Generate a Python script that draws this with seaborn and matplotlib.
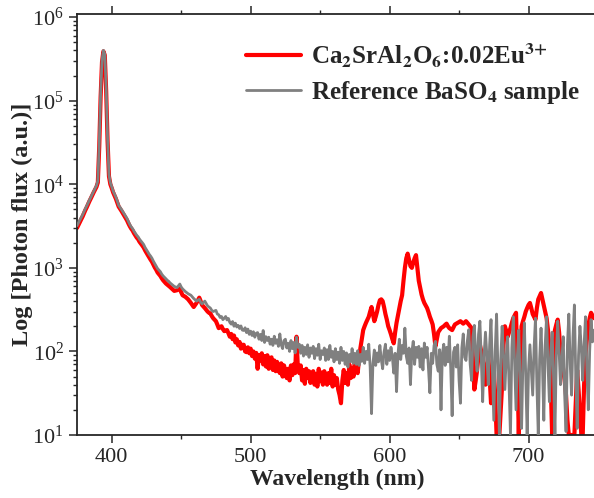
import numpy as np
import pandas as pd
import seaborn as sns
from matplotlib import pyplot as plt
from matplotlib.ticker import LogLocator, FixedLocator, NullFormatter

# wavelength grid (nm), 1 nm steps
wavelength = np.arange(375, 748)

# Ca2SrAl2O6:0.02Eu3+ (red)
sample_flux = [
    3000, 3250, 3500, 3800, 4100, 4500, 4900, 5300, 5800, 6300,
    6800, 7400, 8000, 8600, 9300, 1.05e4, 2.8e4, 1.1e5, 2.9e5, 3.9e5,
    3.5e5, 1.3e5, 3.3e4, 1.25e4, 1.0e4, 9000, 8000, 7300, 6700, 6000,
    5400, 5100, 4800, 4500, 4200, 3950, 3700, 3400, 3150, 2950,
    2800, 2600, 2450, 2300, 2200, 2050, 1950, 1850, 1750, 1620,
    1520, 1420, 1330, 1250, 1180, 1090, 1010, 950, 880, 840,
    800, 750, 710, 680, 650, 630, 610, 590, 570, 550,
    530, 535, 540, 550, 560, 510, 470, 460, 450, 435,
    420, 400, 380, 360, 340, 360, 380, 410, 440, 400,
    360, 345, 330, 315, 300, 290, 285, 265, 250, 240,
    230, 210, 190, 195, 200, 185, 175, 178, 180, 165,
    150, 162, 140, 155, 128, 140, 118, 130, 108, 120,
    120, 100, 98, 112, 95, 108, 88, 100, 82, 96,
    62, 90, 78, 95, 70, 88, 66, 90, 62, 80,
    85, 60, 78, 58, 75, 60, 55, 72, 50, 68,
    58, 48, 62, 45, 68, 52, 70, 55, 150, 62,
    55, 68, 45, 60, 41, 62, 48, 58, 42, 55,
    58, 40, 54, 38, 62, 44, 56, 40, 58, 45,
    40, 55, 42, 62, 38, 52, 40, 48, 35, 30,
    24, 45, 60, 42, 55, 40, 70, 48, 62, 50,
    80, 68, 55, 80, 110, 140, 180, 200, 220, 240,
    260, 300, 340, 280, 230, 260, 300, 360, 410, 420,
    400, 340, 280, 240, 200, 180, 160, 140, 125, 170,
    220, 270, 330, 400, 470, 700, 1000, 1300, 1480, 1250,
    1050, 1000, 1150, 1300, 1420, 1000, 700, 580, 480, 420,
    380, 355, 330, 295, 260, 235, 210, 160, 115, 140,
    170, 180, 190, 195, 200, 208, 215, 200, 190, 185,
    180, 195, 210, 215, 220, 225, 230, 222, 215, 222,
    230, 220, 210, 200, 190, 80, 35, 45, 60, 90,
    120, 100, 80, 60, 40, 65, 90, 50, 24, 40,
    60, 30, 10, 10, 10, 20, 40, 120, 200, 175,
    150, 170, 190, 220, 250, 270, 290, 60, 10, 80,
    200, 230, 260, 300, 330, 360, 380, 330, 280, 260,
    240, 330, 420, 460, 500, 420, 350, 300, 250, 180,
    110, 40, 10, 80, 180, 210, 240, 170, 100, 80,
    60, 45, 30, 15, 10, 10, 10, 10, 10, 25,
    60, 35, 19, 10, 10, 40, 90, 140, 200, 250,
    290, 270, 250,
]

# Reference BaSO4 sample (grey)
reference_flux = [
    3200, 3450, 3700, 4000, 4300, 4700, 5100, 5500, 6000, 6500,
    7000, 7600, 8200, 8900, 9600, 1.1e4, 3.0e4, 1.2e5, 3.0e5, 4.0e5,
    3.6e5, 1.4e5, 3.5e4, 1.3e4, 1.05e4, 9300, 8300, 7600, 7000, 6300,
    5600, 5300, 5000, 4700, 4400, 4150, 3900, 3600, 3300, 3100,
    2950, 2750, 2600, 2450, 2350, 2200, 2100, 2000, 1900, 1750,
    1650, 1550, 1450, 1380, 1300, 1200, 1120, 1050, 980, 940,
    900, 840, 800, 770, 740, 710, 690, 660, 640, 620,
    600, 590, 580, 610, 640, 590, 560, 540, 520, 505,
    490, 480, 470, 450, 430, 415, 400, 410, 420, 390,
    370, 385, 400, 375, 350, 340, 330, 310, 300, 305,
    310, 280, 275, 255, 262, 240, 250, 262, 238, 248,
    222, 212, 228, 200, 218, 196, 205, 188, 202, 180,
    178, 192, 168, 185, 160, 175, 155, 172, 148, 165,
    168, 140, 160, 135, 178, 128, 150, 135, 148, 122,
    140, 118, 152, 125, 138, 115, 162, 120, 108, 135,
    140, 110, 125, 100, 135, 108, 128, 96, 148, 112,
    122, 95, 118, 88, 112, 92, 120, 85, 110, 95,
    115, 82, 108, 90, 122, 80, 102, 92, 110, 78,
    105, 80, 118, 85, 100, 75, 108, 80, 98, 72,
    112, 78, 100, 70, 96, 65, 92, 75, 108, 72,
    95, 70, 102, 68, 92, 76, 112, 72, 100, 80,
    122, 65, 18, 72, 104, 68, 96, 75, 118, 80,
    62, 98, 122, 70, 102, 78, 112, 85, 55, 95,
    33, 92, 140, 80, 118, 95, 190, 88, 72, 110,
    40, 98, 132, 70, 112, 85, 115, 65, 108, 60,
    126, 85, 112, 62, 32, 95, 72, 118, 132, 70,
    58, 105, 20, 95, 122, 68, 112, 75, 152, 62,
    17, 98, 112, 65, 120, 45, 24, 110, 162, 85,
    78, 135, 182, 70, 45, 150, 205, 90, 58, 160,
    230, 80, 25, 90, 170, 90, 40, 120, 240, 60,
    15, 100, 280, 60, 10, 80, 200, 90, 35, 90,
    150, 40, 10, 110, 260, 70, 20, 90, 180, 40,
    12, 80, 220, 50, 10, 60, 120, 60, 30, 110,
    250, 40, 10, 80, 190, 70, 15, 120, 260, 70,
    25, 100, 170, 50, 10, 90, 230, 100, 40, 80,
    150, 30, 11, 120, 280, 70, 30, 150, 360, 50,
    12, 90, 200, 110, 45, 120, 260, 60, 20, 100,
    240, 130, 180,
]

sample_label = r"Ca$_\mathbf{2}$SrAl$_\mathbf{2}$O$_\mathbf{6}$:0.02Eu$^\mathbf{3{+}}$"
reference_label = r"Reference BaSO$_\mathbf{4}$ sample"

sns.set_style("ticks")
plt.rcParams["font.family"] = ["Liberation Serif", "DejaVu Serif"]
plt.rcParams["mathtext.fontset"] = "stix"
plt.rcParams["axes.linewidth"] = 1.3

df = pd.DataFrame({
    "wavelength": np.concatenate([wavelength, wavelength]),
    "flux": sample_flux + reference_flux,
    "series": [sample_label] * len(wavelength) + [reference_label] * len(wavelength),
})

fig = plt.figure(figsize=(5.94, 4.98), dpi=100)
ax = fig.add_axes([77 / 594, 63 / 498, 521 / 594, 421 / 498])

sns.lineplot(data=df[df.series == sample_label], x="wavelength", y="flux",
             color="#ff0000", linewidth=3.0, estimator=None, ax=ax,
             label=sample_label, zorder=2, solid_joinstyle="round")
sns.lineplot(data=df[df.series == reference_label], x="wavelength", y="flux",
             color="#808080", linewidth=2.0, estimator=None, ax=ax,
             label=reference_label, zorder=3, solid_joinstyle="round")

ax.set_yscale("log")
ax.set_xlim(375, 750)
ax.set_ylim(10, 1.09e6)
ax.xaxis.set_major_locator(FixedLocator([400, 500, 600, 700]))
ax.xaxis.set_minor_locator(FixedLocator([450, 550, 650]))
ax.yaxis.set_major_locator(LogLocator(base=10, numticks=10))
ax.yaxis.set_minor_locator(LogLocator(base=10, subs=np.arange(2, 10), numticks=20))
ax.yaxis.set_minor_formatter(NullFormatter())

ax.tick_params(which="major", direction="out", length=6, width=1.1, labelsize=16,
               right=False)
ax.tick_params(which="minor", direction="out", length=3.2, width=1.0)
ax.tick_params(axis="x", which="both", top=True)
ax.spines["right"].set_visible(False)

ax.set_xlabel("Wavelength (nm)", fontsize=17, fontweight="bold", labelpad=1)
ax.set_ylabel("Log [Photon flux (a.u.)]", fontsize=17.5, fontweight="bold", labelpad=-1)

leg = ax.legend(loc="upper left", bbox_to_anchor=(246 / 594, 1 - 41 / 498),
                bbox_transform=fig.transFigure, frameon=False, fontsize=18,
                borderpad=0, borderaxespad=0, handlelength=2.2,
                handletextpad=0.4, labelspacing=0.4)
for t in leg.get_texts():
    t.set_fontweight("bold")

fig.savefig("out.png", dpi=100)
